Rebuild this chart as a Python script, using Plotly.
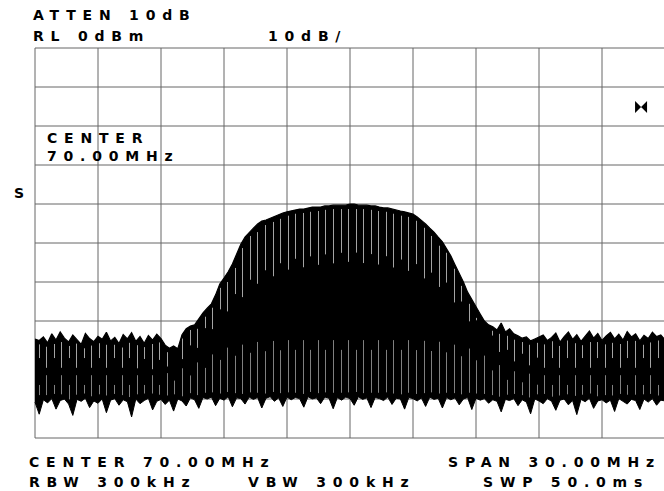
import numpy as np
import plotly.graph_objects as go

# ---- data ----
f_start, f_stop = 55.0, 85.0          # MHz (center 70, span 30)
ref_level, db_per_div = 0.0, 10.0     # dBm

freq_step = 0.2
upper_dbm = [
    -74.6, -75.0, -74.1, -75.6, -73.3, -74.9, -72.8, -74.4, -75.4, -73.6,
    -74.8, -76.0, -73.2, -74.5, -75.3, -73.9, -74.7, -72.9, -75.1, -74.2,
    -75.8, -73.5, -74.6, -73.0, -75.2, -74.0, -75.7, -73.7, -74.9, -73.4,
    -74.5, -76.2, -77.0, -76.4, -77.1, -73.5, -72.0, -71.3, -71.0, -69.4,
    -67.9, -66.7, -65.6, -63.3, -60.5, -59.0, -57.4, -55.4, -52.8, -50.3,
    -48.5, -47.2, -46.2, -45.1, -44.4, -44.1, -43.6, -43.1, -42.8, -42.3,
    -42.0, -41.8, -41.5, -41.3, -41.3, -41.0, -40.8, -40.8, -40.8, -40.5,
    -40.5, -40.3, -40.3, -40.3, -40.3, -40.0, -40.0, -40.3, -40.3, -40.3,
    -40.5, -40.5, -40.8, -41.0, -41.0, -41.3, -41.5, -41.8, -42.0, -42.3,
    -42.6, -43.3, -44.1, -45.1, -46.2, -47.2, -48.5, -49.7, -51.5, -53.3,
    -55.6, -57.7, -60.0, -62.6, -64.6, -66.4, -68.2, -70.0, -71.0, -71.5,
    -72.3, -70.5, -72.8, -72.0, -73.3, -73.8, -74.4, -74.1, -75.1, -74.6,
    -74.1, -73.6, -75.0, -74.2, -73.1, -75.4, -74.0, -72.8, -74.7, -73.5,
    -75.2, -73.9, -72.6, -74.4, -73.2, -75.0, -73.8, -72.9, -74.6, -73.4,
    -74.9, -72.7, -74.1, -73.3, -75.1, -73.7, -74.5, -72.9, -74.0, -73.6,
    -74.8,
]
lower_dbm = [
    -90.8, -93.9, -90.2, -91.0, -89.9, -92.6, -90.4, -90.0, -91.3, -94.2,
    -90.1, -90.6, -89.8, -92.2, -90.5, -91.1, -90.0, -93.5, -90.3, -89.9,
    -91.6, -90.2, -90.7, -94.6, -90.0, -91.2, -90.4, -89.8, -92.8, -90.6,
    -90.1, -91.4, -90.3, -93.1, -90.0, -90.5, -91.8, -89.7, -90.2, -92.4,
    -89.6, -90.0, -89.5, -91.7, -89.8, -90.3, -89.4, -92.0, -89.7, -89.9,
    -91.3, -89.5, -90.1, -89.6, -92.3, -89.8, -89.4, -90.6, -89.7, -91.9,
    -89.5, -90.2, -89.6, -89.9, -92.1, -89.4, -90.0, -89.7, -91.2, -89.5,
    -89.8, -92.5, -89.6, -90.3, -89.5, -89.9, -91.6, -89.4, -90.1, -89.7,
    -92.2, -89.6, -89.9, -90.4, -89.5, -91.4, -89.8, -90.0, -92.6, -89.6,
    -89.9, -90.5, -89.7, -91.9, -89.5, -90.1, -89.8, -92.3, -89.6, -90.2,
    -89.7, -91.5, -90.0, -89.6, -92.7, -89.8, -90.3, -89.9, -91.1, -90.2,
    -90.6, -93.3, -90.1, -90.4, -89.9, -91.7, -90.2, -90.8, -93.8, -90.0,
    -90.5, -91.2, -89.9, -90.6, -92.9, -90.3, -90.0, -91.5, -90.4, -94.0,
    -90.1, -90.7, -89.8, -92.4, -90.5, -90.2, -91.0, -90.3, -93.2, -89.9,
    -90.6, -91.3, -90.1, -90.4, -92.7, -90.0, -90.8, -89.9, -91.6, -90.3,
    -90.5,
]
# solid (no gaps) band inside the trace, every 1.5 MHz
band_step = 1.5
band_top_dbm = [-79.5, -79.5, -79.5, -79.5, -80.0, -76.0, -65.9, -58.2, -54.4, -53.1,
                -52.3, -53.1, -54.9, -59.5, -69.7, -77.4, -79.5, -79.5, -79.5, -79.5, -79.5]
band_bot_dbm = [-86.4, -86.4, -86.4, -86.4, -86.4, -83.8, -79.5, -77.9, -77.4, -77.4,
                -77.4, -77.4, -77.4, -77.9, -80.0, -85.1, -86.4, -86.4, -86.4, -86.4, -86.4]

marker_freq, marker_dbm = 83.86, -15.1

freq_ticks = [55 + 3 * k for k in range(11)]
level_ticks = [0 - 10 * k for k in range(11)]

freq = np.round(f_start + freq_step * np.arange(len(upper_dbm)), 4)
band_freq = f_start + band_step * np.arange(len(band_top_dbm))
upper = np.array(upper_dbm)
lower = np.array(lower_dbm)

# ---- layout geometry (pixels) ----
W, H = 664, 491
L, T, B = 34, 47, 52
px_per_mhz = 21.0
px_per_db = 3.9
plot_w = W - L
plot_h = H - T - B
x0 = f_start - 1 / px_per_mhz
x1 = x0 + plot_w / px_per_mhz
y1 = ref_level + 1 / px_per_db
y0 = y1 - plot_h / px_per_db

fig = go.Figure()

# trace body
fig.add_trace(go.Scatter(x=freq, y=lower, mode="lines", line=dict(color="black", width=1),
                         hoverinfo="skip", showlegend=False))
fig.add_trace(go.Scatter(x=freq, y=upper, mode="lines", line=dict(color="black", width=1.2),
                         fill="tonexty", fillcolor="black", hoverinfo="skip", showlegend=False))

# light gaps between trace strokes (one every ~7.5 px, on pixel centres)
sx_u, sy_u, sx_l, sy_l = [], [], [], []
k = 0
while True:
    px = np.floor(L + 5 + 7.55 * k) + 0.5
    k += 1
    if px > W - 2:
        break
    fx = x0 + (px - L) / px_per_mhz
    j = int(np.clip(np.searchsorted(freq, fx) - 1, 0, len(freq) - 2))
    u_here = min(upper[j], upper[j + 1])
    l_here = max(lower[j], lower[j + 1])
    bt = np.interp(fx, band_freq, band_top_dbm)
    bb = np.interp(fx, band_freq, band_bot_dbm)
    depth = 0.0 if k % 2 else 2.5
    top = u_here - 1.0
    if top > bt + 0.5:
        sx_u += [fx, fx, None]
        sy_u += [top, bt - depth, None]
    bot = l_here + 1.2
    if bb > bot + 0.5:
        sx_l += [fx, fx, None]
        sy_l += [bb + depth, bot, None]
fig.add_trace(go.Scatter(x=sx_u, y=sy_u, mode="lines", line=dict(color="#a4a4a4", width=1),
                         hoverinfo="skip", showlegend=False, connectgaps=False))
fig.add_trace(go.Scatter(x=sx_l, y=sy_l, mode="lines", line=dict(color="#808080", width=1),
                         hoverinfo="skip", showlegend=False, connectgaps=False))

# marker
fig.add_trace(go.Scatter(x=[marker_freq], y=[marker_dbm], mode="markers",
                         marker=dict(symbol="bowtie", size=12, color="black"),
                         hoverinfo="skip", showlegend=False))

# graticule
shapes = []
for fv in freq_ticks:
    shapes.append(dict(type="line", xref="x", yref="y", x0=fv, x1=fv, y0=-100, y1=0,
                       line=dict(color="#666666", width=1), layer="below"))
for lv in level_ticks:
    shapes.append(dict(type="line", xref="x", yref="y", x0=55, x1=85, y0=lv, y1=lv,
                       line=dict(color="#666666", width=1), layer="below"))

FONT = "DejaVu Sans"
SPACING = 6.8


def label(text, px, py, spacing=SPACING, size=14):
    return dict(
        text=f'<span style="letter-spacing:{spacing}px">{text}</span>',
        xref="paper", yref="paper",
        x=(px - L) / plot_w, y=(H - B - py) / plot_h,
        xanchor="left", yanchor="middle", showarrow=False,
        font=dict(family=FONT, size=size, color="black", weight="bold"),
    )


annotations = [
    label("ATTEN 10dB", 31, 15),
    label("RL 0dBm", 31, 36),
    label("10dB/", 266, 36),
    label("CENTER", 45, 138),
    label("70.00MHz", 45, 156),
    label("S", 12, 193),
    label("CENTER 70.00MHz", 27, 462),
    label("SPAN 30.00MHz", 446, 462),
    label("RBW 300kHz", 27, 482),
    label("VBW 300kHz", 246, 482),
    label("SWP 50.0ms", 481, 482),
]

fig.update_layout(
    width=W, height=H,
    margin=dict(l=L, r=0, t=T, b=B, pad=0),
    paper_bgcolor="white", plot_bgcolor="white",
    xaxis=dict(range=[x0, x1], showgrid=False, zeroline=False, showticklabels=False,
               ticks="", showline=False, fixedrange=True),
    yaxis=dict(range=[y0, y1], showgrid=False, zeroline=False, showticklabels=False,
               ticks="", showline=False, fixedrange=True),
    shapes=shapes,
    annotations=annotations,
    showlegend=False,
)

fig.write_html("out.html", config={"displayModeBar": False},
               post_script="document.body.style.margin='0px';")
